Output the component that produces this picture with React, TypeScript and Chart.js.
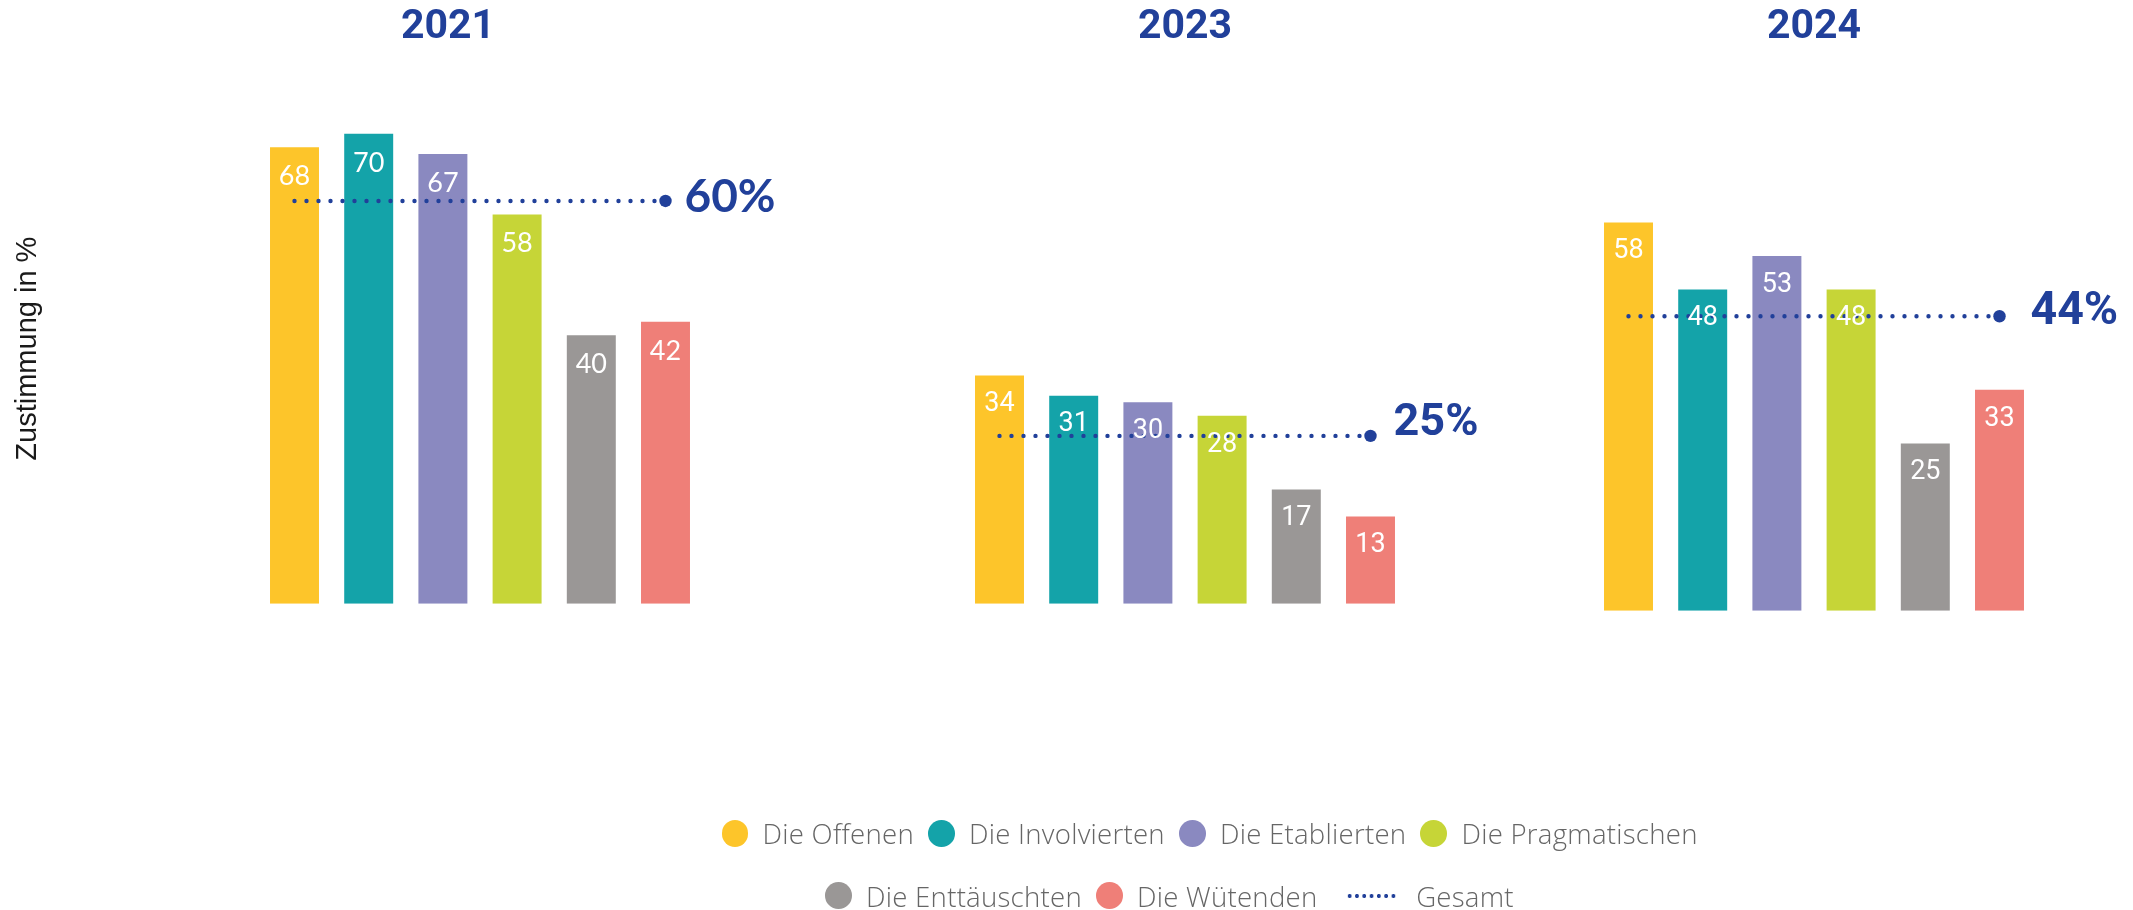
import React, { useEffect, useRef } from 'react';
import { Chart, registerables } from 'chart.js';

Chart.register(...registerables);

// ---------- data ----------
const groups = ['Die Offenen', 'Die Involvierten', 'Die Etablierten', 'Die Pragmatischen', 'Die Enttäuschten', 'Die Wütenden'];
const groupColors = ['#FDC52A', '#14A3A9', '#8A89C0', '#C6D537', '#9A9796', '#EF7F78'];
const years = ['2021', '2023', '2024'];
const values2021 = [68, 70, 67, 58, 40, 42];
const values2023 = [34, 31, 30, 28, 17, 13];
const values2024 = [58, 48, 53, 48, 25, 33];
const gesamtValues = [60, 25, 44];
const gesamtLabel = 'Gesamt';
const yAxisTitle = 'Zustimmung in %';

const BLUE = '#21409A';
const panelValues = [values2021, values2023, values2024];

// ---------- per-panel layout / style ----------
const panelStyles = [
  { left: 0, width: 890, padL: 13, padR: 7, padBottom: 306.3, yMax: 76, titlePadBottom: 41, yTitle: true, leftAxisWidth: 244.4, rightAxisWidth: 180.4,
    valueFamily: 'Lato, "Open Sans", sans-serif', totalFamily: 'Lato, "Open Sans", sans-serif', totalSize: 46, totalDx: 19, totalDy: -4 },
  { left: 880, width: 620, padL: 82.4, padR: 92.4, padBottom: 306.3, yMax: 76, titlePadBottom: 41, yTitle: false, leftAxisWidth: 0, rightAxisWidth: 0,
    valueFamily: 'Roboto, "Liberation Sans", sans-serif', totalFamily: 'Roboto, "Liberation Sans", sans-serif', totalSize: 45, totalDx: 23, totalDy: -12 },
  { left: 1480, width: 653, padL: 111.4, padR: 96.4, padBottom: 299.3, yMax: 77, titlePadBottom: 42.8, yTitle: false, leftAxisWidth: 0, rightAxisWidth: 0,
    valueFamily: 'Roboto, "Liberation Sans", sans-serif', totalFamily: 'Roboto, "Liberation Sans", sans-serif', totalSize: 46.5, totalDx: 31, totalDy: -4 },
];

const panelLabelsPlugin = {
  id: 'panelLabels',
  afterDatasetsDraw(chart: any, _args: any, opts: any) {
    const { ctx } = chart;
    const datasets = chart.data.datasets;
    const barIdx = datasets.findIndex((d: any) => (d.type || 'bar') === 'bar');
    const lineIdx = datasets.findIndex((d: any) => d.type === 'line');
    ctx.save();
    if (barIdx >= 0) {
      const meta = chart.getDatasetMeta(barIdx);
      ctx.fillStyle = '#ffffff';
      ctx.font = `400 ${opts.valueSize}px ${opts.valueFamily}`;
      ctx.textAlign = 'center';
      ctx.textBaseline = 'middle';
      meta.data.forEach((el: any, k: number) => {
        ctx.fillText(String(datasets[barIdx].data[k]), el.x, el.y + opts.valueOffset);
      });
    }
    if (lineIdx >= 0) {
      const meta = chart.getDatasetMeta(lineIdx);
      const last = meta.data[meta.data.length - 1];
      const v = datasets[lineIdx].data[meta.data.length - 1];
      ctx.fillStyle = BLUE;
      ctx.font = `700 ${opts.totalSize}px ${opts.totalFamily}`;
      ctx.textAlign = 'left';
      ctx.textBaseline = 'middle';
      ctx.fillText(`${v}%`, last.x + opts.totalDx, last.y + opts.totalDy);
    }
    ctx.restore();
  },
};

function Panel({ index }: { index: number }) {
  const ref = useRef<HTMLCanvasElement | null>(null);
  const st = panelStyles[index];
  useEffect(() => {
    if (!ref.current) return;
    const values = panelValues[index];
    const scales: any = {
      x: { display: false, offset: true },
      y: {
        min: 0,
        max: st.yMax,
        display: st.yTitle,
        ticks: { display: false },
        grid: { display: false },
        border: { display: false },
        title: {
          display: st.yTitle,
          text: yAxisTitle,
          color: '#1a1a1a',
          font: { family: '"Liberation Sans", Arial, sans-serif', size: 29, lineHeight: 1 },
          padding: 0,
        },
        afterFit: st.yTitle ? (s: any) => { s.width = st.leftAxisWidth; } : undefined,
      },
    };
    if (st.rightAxisWidth > 0) {
      scales.yR = {
        position: 'right',
        display: true,
        min: 0,
        max: 1,
        ticks: { display: false },
        grid: { display: false },
        border: { display: false },
        afterFit: (s: any) => { s.width = st.rightAxisWidth; },
      };
    }
    const chart = new Chart(ref.current, {
      type: 'bar',
      data: {
        labels: groups,
        datasets: [
          {
            type: 'bar',
            label: years[index],
            data: values,
            backgroundColor: groupColors,
            borderWidth: 0,
            categoryPercentage: 1,
            barPercentage: 0.66,
            order: 1,
          } as any,
          {
            type: 'line',
            label: gesamtLabel,
            data: groups.map(() => gesamtValues[index]),
            borderColor: BLUE,
            backgroundColor: BLUE,
            borderWidth: 4.4,
            borderDash: [0, 12],
            borderCapStyle: 'round',
            pointRadius: groups.map((_, k) => (k === groups.length - 1 ? 6.2 : 0)),
            pointBackgroundColor: BLUE,
            pointBorderWidth: 0,
            pointHoverRadius: 0,
            order: 0,
            clip: false,
          } as any,
        ],
      },
      options: {
        animation: false,
        responsive: false,
        maintainAspectRatio: false,
        events: [],
        layout: { padding: { left: st.padL, right: st.padR, top: 0, bottom: st.padBottom } },
        scales,
        plugins: {
          legend: { display: false },
          tooltip: { enabled: false },
          title: {
            display: true,
            text: years[index],
            color: BLUE,
            font: { family: 'Roboto, "Liberation Sans", sans-serif', size: 41, weight: 'bold', lineHeight: 1.2 },
            padding: { top: 3.4, bottom: st.titlePadBottom },
          },
          panelLabels: {
            valueSize: 27,
            valueFamily: st.valueFamily,
            valueOffset: 29,
            totalSize: st.totalSize,
            totalFamily: st.totalFamily,
            totalDx: st.totalDx,
            totalDy: st.totalDy,
          },
        } as any,
      },
      plugins: [panelLabelsPlugin],
    });
    return () => chart.destroy();
  }, [index]);
  return (
    <canvas
      ref={ref}
      width={st.width}
      height={910}
      style={{ position: 'absolute', left: st.left, top: 0, width: st.width, height: 910 }}
    />
  );
}

const legendText: React.CSSProperties = {
  fontFamily: '"Open Sans", Lato, sans-serif',
  fontWeight: 300,
  fontSize: 27.6,
  letterSpacing: 0.25,
  color: '#666666',
  whiteSpace: 'nowrap',
  lineHeight: '40px',
};

function LegendItem({ label, color }: { label: string; color: string }) {
  return (
    <div style={{ display: 'flex', alignItems: 'center', marginRight: 14 }}>
      <span style={{ display: 'inline-block', width: 26.7, height: 26.7, borderRadius: '50%', background: color, marginRight: 14.4 }} />
      <span style={legendText}>{label}</span>
    </div>
  );
}

export default function App() {
  const row1 = groups.slice(0, 4);
  const row2 = groups.slice(4);
  return (
    <div style={{ position: 'absolute', left: 0, top: 0, width: 2133, height: 910, background: '#ffffff', overflow: 'hidden' }}>
      {panelStyles.map((_, i) => (
        <Panel key={i} index={i} />
      ))}
      <div style={{ position: 'absolute', left: 721.5, top: 813.3, height: 40, display: 'flex', alignItems: 'center' }}>
        {row1.map((g, k) => (
          <LegendItem key={g} label={g} color={groupColors[k]} />
        ))}
      </div>
      <div style={{ position: 'absolute', left: 825, top: 875.7, height: 40, display: 'flex', alignItems: 'center' }}>
        {row2.map((g, k) => (
          <LegendItem key={g} label={g} color={groupColors[k + 4]} />
        ))}
        <div style={{ display: 'flex', alignItems: 'center', marginLeft: 14 }}>
          <span
            style={{
              display: 'inline-block',
              width: 51,
              height: 6,
              marginRight: 19.6,
              background: `radial-gradient(circle, ${BLUE} 1.7px, rgba(255,255,255,0) 2.3px) 0 50% / 7.3px 6px repeat-x`,
            }}
          />
          <span style={legendText}>{gesamtLabel}</span>
        </div>
      </div>
    </div>
  );
}
